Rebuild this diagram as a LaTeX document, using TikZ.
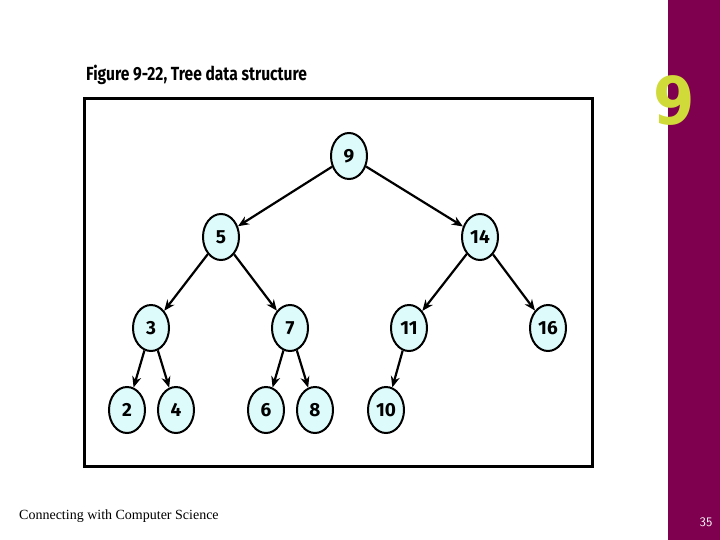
\documentclass[tikz,border=0pt]{standalone}
\usetikzlibrary{shapes.geometric,arrows.meta}
\usepackage{fontspec}
\newfontfamily\tfont{Fira Sans}
\newfontfamily\bfont{DejaVu Sans}
\setmainfont{Liberation Serif}
\definecolor{purp}{HTML}{800050}
\definecolor{yel}{HTML}{D0DA38}
\definecolor{nodefill}{HTML}{DDFBFB}
\begin{document}
\begin{tikzpicture}[x=1pt,y=-1pt,
  tn/.style={ellipse,draw,line width=2pt,fill=nodefill,minimum width=36,minimum height=46,inner sep=0pt,font=\tfont\bfseries\fontsize{19}{19}\selectfont},
  ed/.style={line width=2.2pt,-{Stealth[length=11pt,width=9pt]}}]
\useasboundingbox (0,0) rectangle (720,540);
\fill[white] (0,0) rectangle (720,540);
\fill[purp] (668,0) rectangle (720,540);
\node[font=\bfont\bfseries\fontsize{66}{66}\selectfont,text=yel,inner sep=0pt,xscale=0.9] (logo) at (674,101) {9};
\node[anchor=west,font=\tfont\bfseries\fontsize{19}{19}\selectfont,inner sep=0pt,xscale=0.82] (title) at (86,75) {Figure 9-22, Tree data structure};
\draw[line width=3pt] (84,99) rectangle (592,466);
\node[tn] (n9) at (349,156) {9};
\node[tn] (n5) at (221,237) {5};
\node[tn] (n14) at (480,237) {14};
\node[tn] (n3) at (151,328) {3};
\node[tn] (n7) at (290,328) {7};
\node[tn] (n11) at (409,328) {11};
\node[tn] (n16) at (548,328) {16};
\node[tn] (n2) at (127,410) {2};
\node[tn] (n4) at (176,410) {4};
\node[tn] (n6) at (266,410) {6};
\node[tn] (n8) at (315,410) {8};
\node[tn] (n10) at (386,410) {10};
\draw[ed] (n9) -- (n5);
\draw[ed] (n9) -- (n14);
\draw[ed] (n5) -- (n3);
\draw[ed] (n5) -- (n7);
\draw[ed] (n14) -- (n11);
\draw[ed] (n14) -- (n16);
\draw[ed] (n3) -- (n2);
\draw[ed] (n3) -- (n4);
\draw[ed] (n7) -- (n6);
\draw[ed] (n7) -- (n8);
\draw[ed] (n11) -- (n10);
\node[anchor=west,font=\fontsize{14}{14}\selectfont,inner sep=0pt] (foot) at (19,516) {Connecting with Computer Science};
\node[font=\sffamily\fontsize{13}{13}\selectfont,text=white,inner sep=0pt] (pg) at (706,522) {35};
\end{tikzpicture}
\end{document}
